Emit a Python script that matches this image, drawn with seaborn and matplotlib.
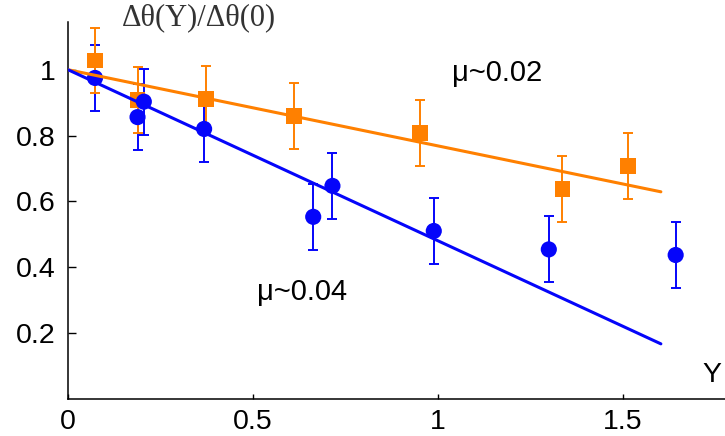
import numpy as np
import pandas as pd
import matplotlib
matplotlib.use('Agg')
import matplotlib.pyplot as plt
import seaborn as sns

# Data
blue_x = [0.073, 0.188, 0.205, 0.368, 0.663, 0.715, 0.989, 1.300, 1.643]
blue_y = [0.975, 0.856, 0.903, 0.820, 0.553, 0.647, 0.510, 0.454, 0.437]
blue_err = [0.10, 0.10, 0.10, 0.10, 0.10, 0.10, 0.10, 0.10, 0.10]

orange_x = [0.073, 0.188, 0.373, 0.612, 0.951, 1.337, 1.513]
orange_y = [1.028, 0.908, 0.910, 0.860, 0.807, 0.638, 0.708]
orange_err = [0.10, 0.10, 0.10, 0.10, 0.10, 0.10, 0.10]

fit_x = [0.0, 1.603]
fit_blue = [1.0, 0.167]
fit_orange = [1.0, 0.629]

x_ticks = [0, 0.5, 1, 1.5]
x_ticklabels = ['0', '0.5', '1', '1.5']
y_ticks = [0.2, 0.4, 0.6, 0.8, 1.0]
y_ticklabels = ['0.2', '0.4', '0.6', '0.8', '1']

BLUE = '#0505FA'
ORANGE = '#FF8000'

sns.set_style('ticks')
plt.rcParams['font.family'] = ['Liberation Sans', 'DejaVu Sans']

fig = plt.figure(figsize=(7.25, 4.36), dpi=100)
ax = fig.add_axes([0.0938, 0.0853, 0.906, 0.865])

blue_df = pd.DataFrame({'x': blue_x, 'y': blue_y})
orange_df = pd.DataFrame({'x': orange_x, 'y': orange_y})

# error bars
ax.errorbar(blue_x, blue_y, yerr=blue_err, fmt='none', ecolor=BLUE,
            elinewidth=1.4, capsize=3.6, capthick=1.4, zorder=2)
ax.errorbar(orange_x, orange_y, yerr=orange_err, fmt='none', ecolor=ORANGE,
            elinewidth=1.4, capsize=3.6, capthick=1.4, zorder=2)

# markers
sns.scatterplot(data=orange_df, x='x', y='y', marker='s', s=130, color=ORANGE,
                edgecolor='none', linewidth=0, ax=ax, zorder=3)
sns.scatterplot(data=blue_df, x='x', y='y', marker='o', s=135, color=BLUE,
                edgecolor='none', linewidth=0, ax=ax, zorder=3)

# fit lines
sns.lineplot(x=fit_x, y=fit_orange, color=ORANGE, linewidth=2.2, ax=ax, zorder=4)
sns.lineplot(x=fit_x, y=fit_blue, color=BLUE, linewidth=2.2, ax=ax, zorder=4)

ax.set_xlim(0, 1.776)
ax.set_ylim(0, 1.146)
ax.set_xticks(x_ticks)
ax.set_xticklabels(x_ticklabels)
ax.set_yticks(y_ticks)
ax.set_yticklabels(y_ticklabels)
ax.set_xlabel('')
ax.set_ylabel('')

sns.despine(ax=ax)
for side in ['left', 'bottom']:
    ax.spines[side].set_linewidth(1.1)
    ax.spines[side].set_color('black')

ax.tick_params(axis='x', direction='in', length=3.3, width=1.0, pad=7,
               labelsize=20.5, colors='black')
ax.tick_params(axis='y', direction='in', length=5.8, width=1.0, pad=9,
               labelsize=20.5, colors='black')

# annotations
ax.text(0.355, 1.157, 'Δθ(Y)/Δθ(0)', fontsize=22, family=['Liberation Serif', 'DejaVu Serif'],
        ha='center', va='center', color='#333333', clip_on=False)
ax.text(1.038, 0.99, 'μ~0.02', fontsize=21, ha='left', va='center', color='black')
ax.text(0.511, 0.326, 'μ~0.04', fontsize=21, ha='left', va='center', color='black')
ax.text(1.741, 0.072, 'Y', fontsize=20.5, ha='center', va='center', color='black')

fig.savefig('out.png', dpi=100)
